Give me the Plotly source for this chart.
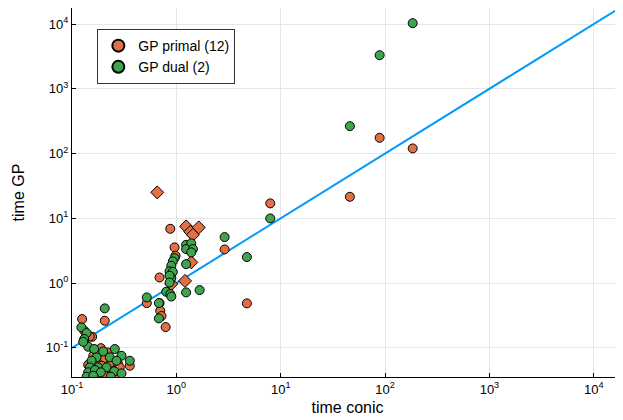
import plotly.graph_objects as go

# y = x reference line
ref_x = [0.1, 1e5]
ref_y = [0.1, 1e5]

# GP primal (circles)
primal_x = [0.156, 0.189, 0.219, 0.358, 0.160, 0.178, 0.206, 0.239, 0.277, 0.143,
            0.192, 0.287, 0.222, 0.267, 0.206,
            0.206, 0.125, 0.131, 0.148,
            0.875, 0.961, 0.982, 0.69, 0.875, 0.521, 0.69, 0.701, 0.72, 0.79,
            2.90, 4.74, 7.94, 46.0, 88.7, 184.0]
primal_y = [0.148, 0.099, 0.085, 0.0529, 0.0756, 0.0649, 0.0696, 0.0598, 0.0562, 0.0548,
            0.0529, 0.050, 0.0443, 0.0394, 0.0371,
            0.262, 0.278, 0.184, 0.150,
            6.89, 3.56, 2.64, 1.22, 1.30, 0.491, 0.491, 0.374, 0.31, 0.209,
            3.31, 0.486, 17.0, 21.5, 175.0, 120.0]

# GP primal (diamonds)
primal_d_x = [0.656, 1.24, 1.64, 1.36, 1.44, 1.39, 1.21, 0.894]
primal_d_y = [25.1, 7.5, 7.24, 6.19, 5.56, 2.09, 1.08, 0.966]

# GP dual
dual_x = [0.131, 0.143, 0.163, 0.199, 0.257, 0.298, 0.358, 0.172, 0.154, 0.230,
          0.267, 0.148, 0.178, 0.214, 0.143, 0.166, 0.189, 0.254, 0.298, 0.138,
          0.160, 0.235,
          0.206, 0.123, 0.138, 0.131, 0.128,
          1.24, 1.39, 1.24, 1.44, 1.39, 0.961, 0.925, 0.894, 1.24, 0.861,
          0.925, 0.894, 0.861, 0.80, 0.875, 1.24, 1.67, 0.521, 0.68, 0.68,
          0.861, 0.894,
          2.90, 4.74, 7.94, 46.0, 88.7, 184.0]
dual_y = [0.129, 0.104, 0.096, 0.088, 0.096, 0.0756, 0.0633, 0.0714, 0.0633, 0.0714,
          0.0633, 0.050, 0.050, 0.050, 0.0419, 0.0454, 0.0419, 0.0434, 0.0404, 0.0358,
          0.0371, 0.0358,
          0.407, 0.207, 0.169, 0.137, 0.124,
          3.90, 4.10, 3.35, 3.35, 2.98, 2.43, 2.16, 1.85, 1.96, 1.52,
          1.49, 1.19, 1.30, 0.734, 0.676, 0.718, 0.78, 0.601, 0.491, 0.285,
          1.02, 0.62,
          5.13, 2.52, 9.96, 265.0, 3300.0, 10300.0]

tick_vals = [0.1, 1, 10, 100, 1000, 10000]
tick_text = ["10<sup>-1</sup>", "10<sup>0</sup>", "10<sup>1</sup>",
             "10<sup>2</sup>", "10<sup>3</sup>", "10<sup>4</sup>"]

BLUE = "#009AFA"
ORANGE = "#E26F46"
GREEN = "#3EA44E"

fig = go.Figure()
fig.add_trace(go.Scatter(x=ref_x, y=ref_y, mode="lines",
                         line=dict(color=BLUE, width=2), showlegend=False,
                         hoverinfo="skip"))
mk = dict(size=9, line=dict(color="black", width=1))
fig.add_trace(go.Scatter(x=primal_d_x, y=primal_d_y, mode="markers",
                         marker=dict(color=ORANGE, symbol="diamond", size=10,
                                     line=dict(color="black", width=1)),
                         showlegend=False))
fig.add_trace(go.Scatter(x=primal_x, y=primal_y, mode="markers", name="GP primal (12)",
                         marker=dict(color=ORANGE, symbol="circle", **mk)))
fig.add_trace(go.Scatter(x=dual_x, y=dual_y, mode="markers", name="GP dual (2)",
                         marker=dict(color=GREEN, symbol="circle", **mk)))

axis_common = dict(type="log", tickvals=tick_vals, ticktext=tick_text,
                   showgrid=True, gridcolor="#E6E6E6", gridwidth=1,
                   showline=True, linecolor="black", linewidth=1,
                   ticks="inside", ticklen=4, tickcolor="black",
                   zeroline=False, mirror=False, automargin=False,
                   tickfont=dict(family="Liberation Sans, Arial", size=13, color="black"),
                   title_font=dict(family="Liberation Sans, Arial", size=16, color="black"))

fig.update_layout(
    width=615, height=412,
    margin=dict(l=64, r=0, t=0, b=43),
    plot_bgcolor="white", paper_bgcolor="white",
    xaxis=dict(range=[-1, 4.28], title=dict(text="time conic", standoff=6), **axis_common),
    yaxis=dict(range=[-1.45, 4.247], title=dict(text="time GP", standoff=17), **axis_common),
    legend=dict(x=0.046, y=0.943, xanchor="left", yanchor="top",
                bgcolor="white", bordercolor="#333333", borderwidth=1,
                font=dict(family="Liberation Sans, Arial", size=14, color="black"),
                itemsizing="constant", tracegroupgap=0),
    showlegend=True,
)

fig.write_html("out.html")
